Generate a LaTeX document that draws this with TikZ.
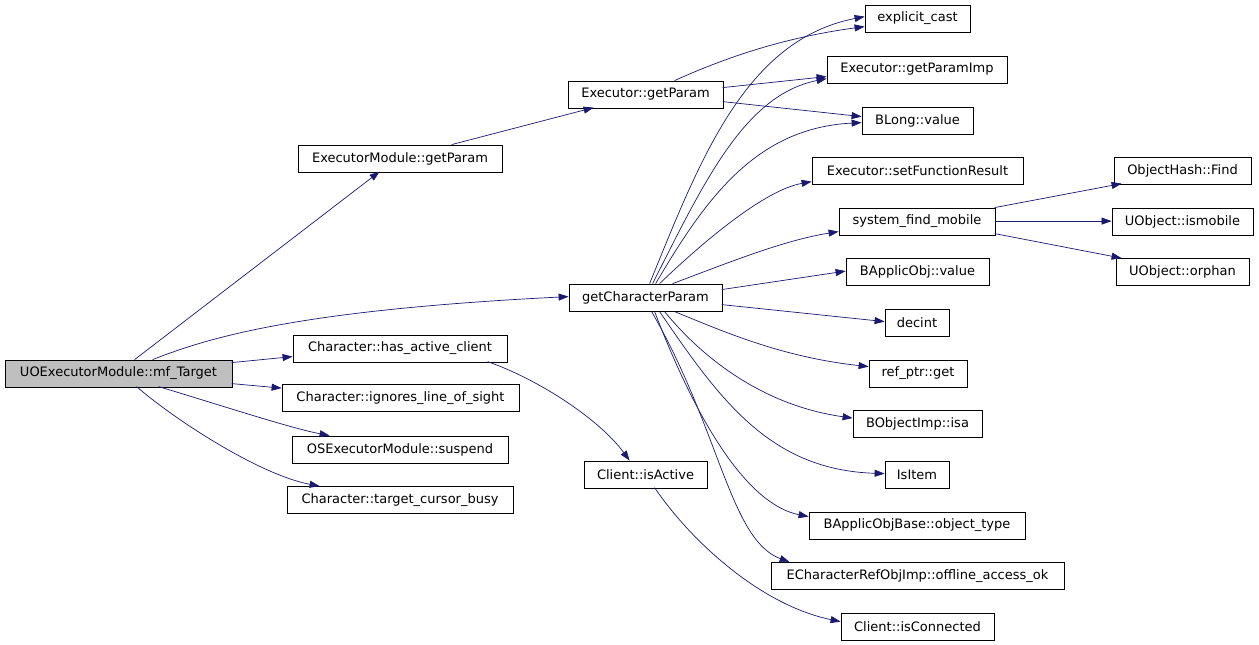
\documentclass[tikz,border=0pt]{standalone}
\usepackage{fontspec}
\setmainfont{DejaVu Sans}
\usetikzlibrary{arrows.meta,calc}
\definecolor{edgeblue}{HTML}{191970}
\definecolor{curgray}{HTML}{BFBFBF}
\begin{document}
\begin{tikzpicture}[x=1pt,y=-1pt,
  box/.style={draw=black,line width=0.8pt,fill=white,rectangle,inner sep=0pt,minimum height=27pt,font=\fontsize{13}{15}\selectfont},
  edge/.style={draw=edgeblue,line width=0.7pt,-{Triangle[length=10pt,width=7pt]}}]
\useasboundingbox (0,0) rectangle (1259,645);
% nodes
\node[box,fill=curgray,minimum width=227pt] (mf) at (118.5,373.5) {UOExecutorModule::mf\_Target};
\node[box,minimum width=204pt] (emgp) at (400,158.5) {ExecutorModule::getParam};
\node[box,minimum width=155pt] (egp) at (645.5,94.5) {Executor::getParam};
\node[box,minimum width=105pt] (ec) at (917.5,18.5) {explicit\_cast};
\node[box,minimum width=180pt] (egpi) at (917,69.5) {Executor::getParamImp};
\node[box,minimum width=111pt] (bl) at (917.5,120.5) {BLong::value};
\node[box,minimum width=211pt] (sfr) at (917.5,170.5) {Executor::setFunctionResult};
\node[box,minimum width=156pt] (sfm) at (917,221.5) {system\_find\_mobile};
\node[box,minimum width=143pt] (bav) at (917.5,272) {BApplicObj::value};
\node[box,minimum width=137pt] (ohf) at (1182.5,170.5) {ObjectHash::Find};
\node[box,minimum width=141pt] (uim) at (1182.5,221.5) {UObject::ismobile};
\node[box,minimum width=133pt] (uor) at (1182.5,272) {UObject::orphan};
\node[box,minimum width=153pt] (gcp) at (645.5,297.5) {getCharacterParam};
\node[box,minimum width=64pt] (dec) at (917,322.5) {decint};
\node[box,minimum width=98pt] (rpg) at (918,373.5) {ref\_ptr::get};
\node[box,minimum width=129pt] (boi) at (917.5,424) {BObjectImp::isa};
\node[box,minimum width=64pt] (isi) at (917,474.5) {IsItem};
\node[box,minimum width=123pt] (cia) at (645.5,474.5) {Client::isActive};
\node[box,minimum width=216pt] (bab) at (917,525.5) {BApplicObjBase::object\_type};
\node[box,minimum width=293pt] (ecr) at (917.5,576) {ECharacterRefObjImp::offline\_access\_ok};
\node[box,minimum width=153pt] (cic) at (917.5,626.5) {Client::isConnected};
\node[box,minimum width=214pt] (hac) at (400,348.5) {Character::has\_active\_client};
\node[box,minimum width=237pt] (ilos) at (400.5,398) {Character::ignores\_line\_of\_sight};
\node[box,minimum width=216pt] (oss) at (400,449.5) {OSExecutorModule::suspend};
\node[box,minimum width=226pt] (tcb) at (400,500) {Character::target\_cursor\_busy};
% edges from mf_Target
\draw[edge] ($(mf.north west)+(130,0)$) -- ($(emgp.north west)+(82,27)$);
\draw[edge] ($(mf.north west)+(148,0)$) .. controls (210,337) and (300,310) .. ($(gcp.north west)+(0,13)$);
\draw[edge] ($(mf.north west)+(227,3)$) -- ($(hac.north west)+(0,22)$);
\draw[edge] ($(mf.north west)+(227,24)$) -- ($(ilos.north west)+(0,4)$);
\draw[edge] ($(mf.north west)+(154,27)$) .. controls (220,405) and (290,428) .. ($(oss.north west)+(38,0)$);
\draw[edge] ($(mf.north west)+(132,27)$) .. controls (175,420) and (260,475) .. ($(tcb.north west)+(33,0)$);
% second level
\draw[edge] ($(emgp.north west)+(154,0)$) -- ($(egp.north west)+(26,27)$);
\draw[edge] ($(hac.north west)+(195,27)$) .. controls (540,380) and (600,420) .. ($(cia.north west)+(46,0)$);
\draw[edge] ($(cia.north west)+(71,27)$) .. controls (690,540) and (760,605) .. ($(cic.north west)+(0,9)$);
% Executor::getParam
\draw[edge] ($(egp.north west)+(107,0)$) .. controls (720,60) and (780,38) .. ($(ec.north west)+(0,22)$);
\draw[edge] ($(egp.north west)+(155,7)$) -- ($(egpi.north west)+(0,21)$);
\draw[edge] ($(egp.north west)+(155,21)$) -- ($(bl.north west)+(0,10)$);
% getCharacterParam
\draw[edge] ($(gcp.north west)+(81,0)$) .. controls (700,160) and (745,40) .. ($(ec.north west)+(0,12)$);
\draw[edge] ($(gcp.north west)+(84,0)$) .. controls (705,180) and (745,95) .. ($(egpi.north west)+(0,23)$);
\draw[edge] ($(gcp.north west)+(87,0)$) .. controls (705,200) and (755,128) .. ($(bl.north west)+(0,16)$);
\draw[edge] ($(gcp.north west)+(91,0)$) .. controls (705,240) and (765,190) .. ($(sfr.north west)+(0,25)$);
\draw[edge] ($(gcp.north west)+(104,0)$) .. controls (730,262) and (785,240) .. ($(sfm.north west)+(0,24)$);
\draw[edge] ($(gcp.north west)+(153,6)$) -- ($(bav.north west)+(0,13)$);
\draw[edge] ($(gcp.north west)+(153,21)$) -- ($(dec.north west)+(0,13)$);
\draw[edge] ($(gcp.north west)+(106,28)$) .. controls (720,330) and (780,357) .. ($(rpg.north west)+(0,7)$);
\draw[edge] ($(gcp.north west)+(96,28)$) .. controls (700,355) and (760,405) .. ($(boi.north west)+(0,8)$);
\draw[edge] ($(gcp.north west)+(91,28)$) .. controls (720,400) and (770,470) .. ($(isi.north west)+(0,13)$);
\draw[edge] ($(gcp.north west)+(86,28)$) .. controls (700,430) and (750,505) .. ($(bab.north west)+(0,5)$);
\draw[edge] ($(gcp.north west)+(83,28)$) .. controls (720,430) and (730,540) .. ($(ecr.north west)+(19,0)$);
% system_find_mobile
\draw[edge] ($(sfm.north west)+(156,0)$) -- ($(ohf.north west)+(8,27)$);
\draw[edge] ($(sfm.north west)+(156,13.5)$) -- ($(uim.north west)+(0,13.5)$);
\draw[edge] ($(sfm.north west)+(156,26)$) -- ($(uor.north west)+(6,0)$);
\end{tikzpicture}
\end{document}
